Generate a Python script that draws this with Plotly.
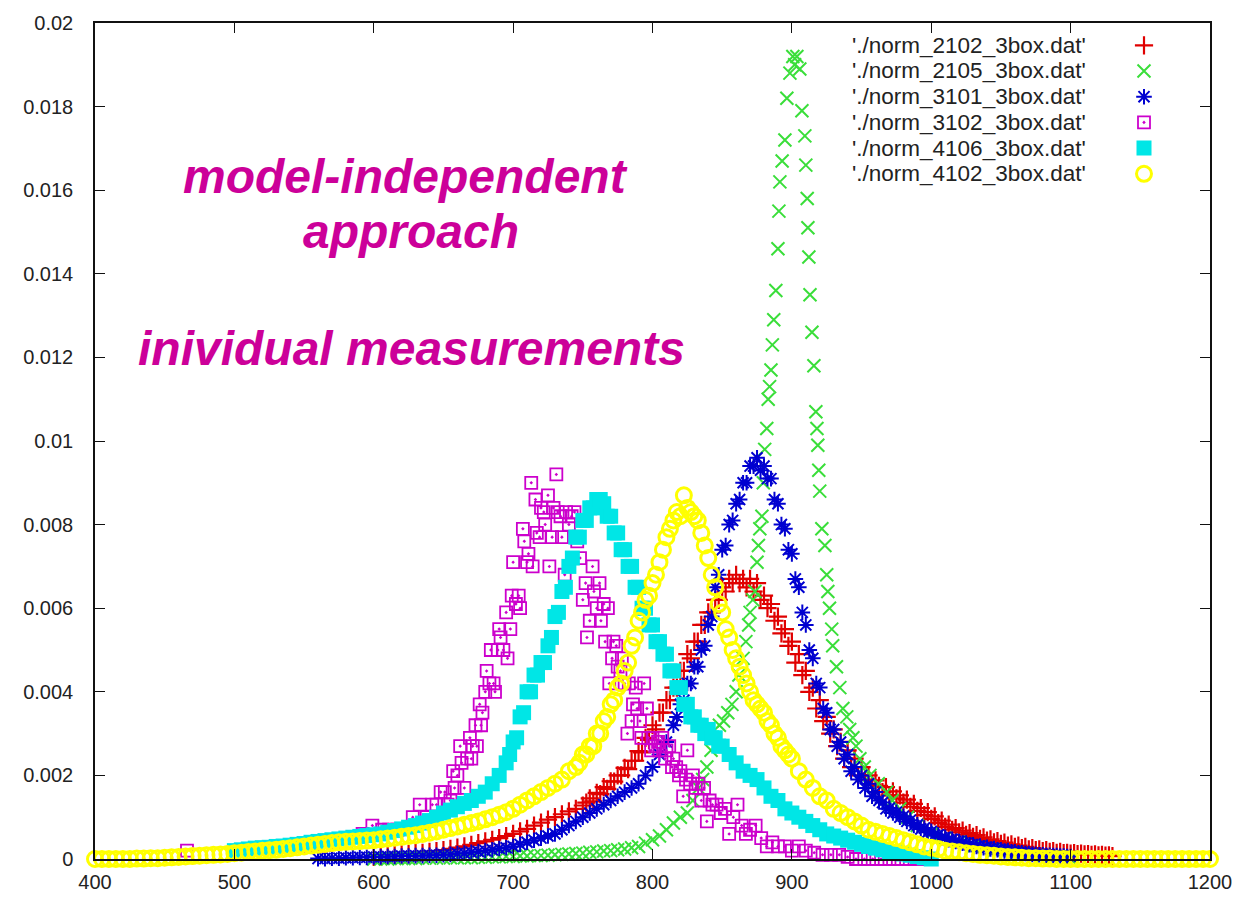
import plotly.graph_objects as go

# ---------------------------------------------------------------------------
# Normalised distributions from six measurement files (3-box analysis)
# ---------------------------------------------------------------------------
legend_labels = [
    "'./norm_2102_3box.dat'",
    "'./norm_2105_3box.dat'",
    "'./norm_3101_3box.dat'",
    "'./norm_3102_3box.dat'",
    "'./norm_4106_3box.dat'",
    "'./norm_4102_3box.dat'",
]

# Each regularly sampled file is stored in segments: (first x, x step, y values).
# The central parts of the peaks are sampled more finely than the tails.

# norm_2102
y_2102_low = [  # x = 600 ... 750, step 5
    0.00005, 0.00006, 0.00008, 0.0001, 0.00011, 0.00012, 0.00014, 0.00015, 0.00017, 0.00019,
    0.00021, 0.00024, 0.00027, 0.0003, 0.00034, 0.00038, 0.00042, 0.00046, 0.0005, 0.00055,
    0.0006, 0.00066, 0.00072, 0.0008, 0.00087, 0.00094, 0.001, 0.00107, 0.00114, 0.0012,
    0.00128,
]
y_2102_peak = [  # x = 752.5 ... 960, step 2.5
    0.00135, 0.00145, 0.00138, 0.00158, 0.00155, 0.00172, 0.00168, 0.00186, 0.00185, 0.002,
    0.002, 0.00218, 0.00215, 0.00235, 0.00235, 0.00258, 0.00255, 0.0029, 0.00285, 0.0032,
    0.0031, 0.0035, 0.0035, 0.0038, 0.0038, 0.0041, 0.0041, 0.0045, 0.0045, 0.0049,
    0.0048, 0.0052, 0.0052, 0.0056, 0.0056, 0.0059, 0.0059, 0.0062, 0.0062, 0.0065,
    0.0064, 0.0067, 0.0066, 0.0068, 0.0066, 0.0067, 0.0065, 0.0067, 0.0064, 0.0066,
    0.0062, 0.0063, 0.006, 0.0061, 0.0057, 0.0058, 0.0054, 0.0055, 0.0051, 0.0052,
    0.0047, 0.0049, 0.0044, 0.0045, 0.004, 0.0041, 0.0036, 0.0038, 0.0033, 0.0034,
    0.003, 0.0031, 0.0027, 0.0028, 0.0024, 0.0026, 0.0022, 0.0024, 0.002, 0.0022,
    0.0019, 0.002, 0.00178, 0.00188,
]
y_2102_high = [  # x = 962.5 ... 1130, step 2.5
    0.00175, 0.0016, 0.00172, 0.00152, 0.00162, 0.00145, 0.00152, 0.00135, 0.00142, 0.00125,
    0.00132, 0.00115, 0.00122, 0.00105, 0.00112, 0.00096, 0.00102, 0.00086, 0.00092, 0.00077,
    0.00082, 0.0007, 0.00074, 0.00064, 0.00068, 0.00058, 0.00062, 0.00053, 0.00057, 0.00048,
    0.00052, 0.00044, 0.00047, 0.0004, 0.00043, 0.00036, 0.00039, 0.00032, 0.00035, 0.00029,
    0.00032, 0.00026, 0.00029, 0.00023, 0.00026, 0.00021, 0.00023, 0.00019, 0.00021, 0.00017,
    0.00019, 0.00015, 0.00017, 0.00014, 0.00015, 0.00013, 0.00014, 0.00012, 0.00013, 0.00011,
    0.00012, 0.0001, 0.00011, 0.00009, 0.0001, 0.00008, 0.00009, 0.00007,
]

# norm_2105 (narrow peak, irregular sampling)
points_2105 = [
    (600, 0.0), (605, 0.0), (610, 0.0), (615, 0.00001), (620, 0.00001), (625, 0.00001),
    (630, 0.00001), (635, 0.00002), (640, 0.00002), (645, 0.00002), (650, 0.00002),
    (655, 0.00003), (660, 0.00003), (665, 0.00003), (670, 0.00003), (675, 0.00004),
    (680, 0.00004), (685, 0.00005), (690, 0.00005), (695, 0.00006), (700, 0.00006),
    (705, 0.00007), (710, 0.00007), (715, 0.00008), (720, 0.00008), (725, 0.00009),
    (730, 0.0001), (735, 0.00011), (740, 0.00012), (745, 0.00013), (750, 0.00014),
    (755, 0.00016), (760, 0.00017), (765, 0.00019), (770, 0.0002), (775, 0.00022),
    (780, 0.00024), (785, 0.00027), (790, 0.0003), (795, 0.00038), (800, 0.00046),
    (805, 0.00055), (810, 0.0007), (815, 0.00086), (820, 0.001), (825, 0.0011),
    (829, 0.0014), (833, 0.0017), (836, 0.0019), (839, 0.0022), (842, 0.0026),
    (845, 0.0029), (848, 0.0032), (851, 0.0033), (854, 0.0035), (857, 0.0037),
    (860, 0.004), (862, 0.0044), (865, 0.0048), (867, 0.0052), (869, 0.0056),
    (870, 0.0059), (872, 0.0062), (873.5, 0.0064), (875, 0.0071), (876, 0.0075),
    (877, 0.0079), (878.5, 0.0082), (879.5, 0.009), (880.5, 0.0098), (882, 0.0103),
    (883, 0.011), (884, 0.0113), (885, 0.0117), (886, 0.0123), (887, 0.0129),
    (888.5, 0.0136), (890, 0.0146), (890.7, 0.0155), (891.4, 0.0162), (893, 0.0167),
    (895, 0.0172), (896.4, 0.0182), (898.6, 0.0188), (900.7, 0.0192), (902, 0.019),
    (903.6, 0.0192), (905.7, 0.0189), (907.2, 0.0179), (909.3, 0.0173), (910, 0.0166),
    (911, 0.0158), (911.5, 0.0151), (912.2, 0.0144), (913, 0.0135), (914.4, 0.0126),
    (915.8, 0.0118), (917.2, 0.0107), (918, 0.0103), (918.6, 0.0099), (919.3, 0.0093),
    (920, 0.0088), (921.5, 0.0079), (923.7, 0.0075), (925, 0.0068), (925.8, 0.0064),
    (927, 0.006), (928.6, 0.0055), (929.3, 0.0051), (932, 0.0046), (934.4, 0.0041),
    (936.6, 0.0036), (939.4, 0.0034), (941.5, 0.0031), (943.8, 0.0029), (946, 0.0027),
    (948.8, 0.0024), (952, 0.0022), (956, 0.002), (962, 0.0018), (968, 0.0016),
    (972, 0.0014), (977.5, 0.0012), (983, 0.001), (990, 0.0008), (1000, 0.0006),
    (1010, 0.0005), (1020, 0.0004), (1030, 0.0003), (1045, 0.0002), (1060, 0.0001),
    (1080, 0.00005), (1100, 0.0),
]

# norm_3101
y_3101_low = [  # x = 560 ... 815, step 5
    0.00001, 0.00001, 0.00002, 0.00002, 0.00003, 0.00003, 0.00004, 0.00004, 0.00005, 0.00005,
    0.00006, 0.00006, 0.00007, 0.00007, 0.00008, 0.00008, 0.00009, 0.00009, 0.0001, 0.00011,
    0.00013, 0.00014, 0.00016, 0.00018, 0.0002, 0.00022, 0.00025, 0.00027, 0.0003, 0.00035,
    0.0004, 0.00045, 0.0005, 0.00055, 0.0006, 0.0007, 0.0008, 0.0009, 0.001, 0.0011,
    0.0012, 0.0013, 0.0014, 0.0015, 0.0016, 0.0017, 0.0018, 0.002, 0.0022, 0.0025,
    0.0028, 0.0032,
]
y_3101_peak = [  # x = 817.5 ... 960, step 2.5
    0.0034, 0.0037, 0.0038, 0.0042, 0.0042, 0.0046, 0.0046, 0.005, 0.0051, 0.0056,
    0.0058, 0.0065, 0.0068, 0.0074, 0.0075, 0.008, 0.0081, 0.0085, 0.0086, 0.009,
    0.009, 0.0094, 0.0094, 0.0096, 0.0093, 0.0094, 0.0091, 0.0091, 0.0086, 0.0085,
    0.008, 0.0079, 0.0074, 0.0073, 0.0067, 0.0065, 0.0059, 0.0056, 0.005, 0.0048,
    0.0042, 0.0041, 0.0036, 0.0035, 0.0031, 0.0031, 0.0027, 0.0028, 0.0024, 0.0025,
    0.0021, 0.0022, 0.0019, 0.002, 0.0017, 0.0018, 0.0015, 0.0016,
]
y_3101_high = [  # x = 962.5 ... 1100, step 2.5
    0.0014, 0.00135, 0.0012, 0.00122, 0.0011, 0.00112, 0.001, 0.00102, 0.0009, 0.00093,
    0.0008, 0.00082, 0.00072, 0.00074, 0.00064, 0.00066, 0.00057, 0.00058, 0.00051, 0.00052,
    0.00046, 0.00047, 0.00042, 0.00042, 0.00038, 0.00038, 0.00034, 0.00034, 0.0003, 0.00031,
    0.00027, 0.00028, 0.00024, 0.00025, 0.00022, 0.00022, 0.00019, 0.0002, 0.00017, 0.00017,
    0.00015, 0.00015, 0.00013, 0.00013, 0.00011, 0.00011, 0.0001, 0.0001, 0.00009, 0.00009,
    0.00008, 0.00008, 0.00007, 0.00007, 0.00006, 0.00006,
]

# norm_3102 (noisy, irregular sampling)
points_3102 = [
    (466, 0.0002), (540, 0.0003), (546, 0.00031), (551, 0.00033), (556, 0.00033),
    (562, 0.00032), (566, 0.00033), (580, 0.0004), (592, 0.0006), (599, 0.0008),
    (606, 0.0007), (611, 0.0007), (617, 0.0007), (628, 0.001), (633, 0.0013),
    (638, 0.001), (642, 0.0013), (645, 0.0013), (648, 0.0016), (651, 0.0016),
    (653, 0.0013), (655, 0.0014), (657, 0.0021), (658, 0.0017), (660, 0.002),
    (662, 0.0027), (663, 0.0023), (665, 0.0017), (667, 0.0024), (669, 0.0029),
    (670, 0.0024), (671, 0.0027), (673, 0.0032), (674, 0.0027), (676, 0.0037),
    (677, 0.0032), (678, 0.0035), (680, 0.004), (681, 0.0045), (683, 0.0042),
    (684, 0.005), (686, 0.0042), (687, 0.004), (689, 0.005), (690, 0.0055),
    (691, 0.0053), (693, 0.005), (695, 0.0059), (696, 0.0048), (698, 0.0055),
    (699, 0.0063), (700, 0.0071), (702, 0.0061), (704, 0.0063), (705, 0.006),
    (707, 0.0079), (708, 0.0076), (710, 0.0071), (711, 0.0073), (713, 0.009),
    (714, 0.007), (716, 0.0086), (717, 0.0078), (719, 0.0077), (720, 0.0084),
    (722, 0.0083), (723, 0.008), (725, 0.0087), (726, 0.007), (728, 0.0077),
    (729, 0.0084), (731, 0.0092), (732, 0.0083), (734, 0.0082), (735, 0.0077),
    (737, 0.0068), (738, 0.0083), (740, 0.008), (742, 0.0082), (744, 0.0083),
    (746, 0.0076), (748, 0.0072), (750, 0.0062), (752, 0.0066), (753, 0.0053),
    (755, 0.0057), (757, 0.007), (758, 0.0064), (760, 0.006), (762, 0.0066),
    (763, 0.0057), (765, 0.0061), (766, 0.0052), (768, 0.006), (769, 0.0042),
    (771, 0.0048), (772, 0.0052), (774, 0.0051), (775, 0.0046), (777, 0.0045),
    (778, 0.0048), (780, 0.0042), (782, 0.003), (783, 0.0042), (785, 0.0033),
    (786, 0.0037), (788, 0.0041), (789, 0.0036), (791, 0.0033), (792, 0.0029),
    (794, 0.0042), (796, 0.0036), (797, 0.0029), (799, 0.0026), (800, 0.0029),
    (802, 0.0027), (804, 0.0028), (805, 0.0026), (807, 0.0029), (809, 0.0024),
    (810, 0.0026), (812, 0.0027), (814, 0.0022), (815, 0.0024), (817, 0.0022),
    (819, 0.002), (820, 0.0021), (822, 0.0015), (824, 0.0019), (825, 0.0026),
    (827, 0.0018), (829, 0.002), (831, 0.0017), (833, 0.0018), (835, 0.0014),
    (837, 0.0017), (839, 0.0009), (841, 0.0014), (843, 0.0013), (846, 0.0013),
    (849, 0.0011), (852, 0.0012), (855, 0.0006), (858, 0.001), (861, 0.0013),
    (864, 0.0008), (867, 0.0006), (870, 0.0007), (874, 0.0008), (878, 0.0005),
    (882, 0.0003), (886, 0.0004), (890, 0.0003), (895, 0.0003), (900, 0.0002),
    (905, 0.0003), (910, 0.0002), (916, 0.00015), (922, 0.0001), (928, 0.0001),
    (934, 0.0001), (940, 0.00005), (946, 0.0), (952, 0.0), (958, 0.0),
    (964, 0.0), (970, 0.0), (976, 0.0), (982, 0.0), (988, 0.0), (994, 0.0),
]

# norm_4106
y_4106_low = [  # x = 500 ... 695, step 5
    0.0002, 0.00022, 0.00024, 0.00026, 0.00027, 0.00028, 0.0003, 0.00031, 0.00033, 0.00035,
    0.00037, 0.0004, 0.00042, 0.00044, 0.00046, 0.00048, 0.0005, 0.00052, 0.00054, 0.00056,
    0.00058, 0.0006, 0.00064, 0.00068, 0.00072, 0.00076, 0.0008, 0.00086, 0.00092, 0.001,
    0.0011, 0.00117, 0.00125, 0.00133, 0.0014, 0.0015, 0.0016, 0.0018, 0.002, 0.0023,
]
y_4106_peak = [  # x = 697.5 ... 850, step 2.5
    0.0025, 0.0028, 0.0029, 0.0034, 0.0035, 0.004, 0.004, 0.0044, 0.0044, 0.0047,
    0.0047, 0.0051, 0.0053, 0.0058, 0.0059, 0.0064, 0.0065, 0.007, 0.0072, 0.0077,
    0.0077, 0.0081, 0.0081, 0.0084, 0.0084, 0.0086, 0.0086, 0.0085, 0.0082, 0.0082,
    0.0078, 0.0078, 0.0074, 0.0074, 0.007, 0.007, 0.0065, 0.0065, 0.006, 0.006,
    0.0056, 0.0056, 0.0052, 0.0052, 0.0049, 0.0049, 0.0045, 0.0045, 0.0041, 0.0041,
    0.0037, 0.0037, 0.0034, 0.0034, 0.0032, 0.0032, 0.003, 0.0031, 0.0029, 0.0029,
    0.0027, 0.0027,
]
y_4106_high = [  # x = 855 ... 1000, step 5
    0.0025, 0.0023, 0.0021, 0.002, 0.0019, 0.0017, 0.0015, 0.0014, 0.0012, 0.0011,
    0.001, 0.0009, 0.0008, 0.0007, 0.0006, 0.00055, 0.0005, 0.00045, 0.0004, 0.00035,
    0.0003, 0.00026, 0.00022, 0.00018, 0.00015, 0.00012, 0.00009, 0.00006, 0.00003, 0.0,
]

# norm_4102
y_4102_low = [  # x = 400 ... 745, step 5
    0.0, 0.0, 0.0, 0.0, 0.0, 0.0, 0.00001, 0.00001, 0.00002, 0.00002,
    0.00003, 0.00004, 0.00005, 0.00006, 0.00007, 0.00008, 0.00009, 0.0001, 0.00011, 0.00012,
    0.00014, 0.00015, 0.00017, 0.00018, 0.0002, 0.00021, 0.00022, 0.00024, 0.00026, 0.00028,
    0.0003, 0.00032, 0.00034, 0.00036, 0.00038, 0.0004, 0.00041, 0.00042, 0.00043, 0.00044,
    0.00045, 0.00047, 0.00049, 0.00051, 0.00053, 0.00055, 0.00057, 0.0006, 0.00063, 0.00066,
    0.0007, 0.00074, 0.00078, 0.00082, 0.00086, 0.0009, 0.00095, 0.001, 0.00106, 0.00112,
    0.0012, 0.0013, 0.0014, 0.0015, 0.0016, 0.0017, 0.0018, 0.0019, 0.0021, 0.0022,
]
y_4102_peak = [  # x = 747.5 ... 900, step 2.5
    0.0023, 0.0025, 0.0025, 0.0027, 0.0027, 0.003, 0.003, 0.0033, 0.0034, 0.0037,
    0.0038, 0.0041, 0.0042, 0.0045, 0.0047, 0.0051, 0.0053, 0.0057, 0.0059, 0.0062,
    0.0063, 0.0066, 0.0068, 0.0071, 0.0074, 0.0077, 0.0079, 0.0081, 0.0083, 0.0082,
    0.0087, 0.0084, 0.0083, 0.0082, 0.0081, 0.0078, 0.0075, 0.0072, 0.0068, 0.0065,
    0.0061, 0.0059, 0.0055, 0.0053, 0.005, 0.0048, 0.0046, 0.0044, 0.0042, 0.004,
    0.0038, 0.0037, 0.0036, 0.0035, 0.0033, 0.0032, 0.003, 0.0029, 0.0027, 0.0026,
    0.0025, 0.0024,
]
y_4102_high = [  # x = 905 ... 1200, step 5
    0.0021, 0.0019, 0.0017, 0.0015, 0.0014, 0.0012, 0.0011, 0.001, 0.0009,
    0.0008, 0.0007, 0.00065, 0.0006, 0.00055, 0.0005, 0.00045, 0.0004, 0.00035, 0.0003,
    0.00027, 0.00024, 0.0002, 0.00018, 0.00016, 0.00014, 0.00012, 0.0001, 0.00009, 0.00008,
    0.00006, 0.00005, 0.00004, 0.00003, 0.00002, 0.00002, 0.00001, 0.00001, 0.0, 0.0,
    0.0, 0.0, 0.0, 0.0, 0.0, 0.0, 0.0, 0.0, 0.0, 0.0,
    0.0, 0.0, 0.0, 0.0, 0.0, 0.0, 0.0, 0.0, 0.0, 0.0,
    0.0,
]

y_tick_values = [0, 0.002, 0.004, 0.006, 0.008, 0.01, 0.012, 0.014, 0.016, 0.018, 0.02]
y_tick_labels = ["0", "0.002", "0.004", "0.006", "0.008", "0.01",
                 "0.012", "0.014", "0.016", "0.018", "0.02"]
x_tick_values = [400, 500, 600, 700, 800, 900, 1000, 1100, 1200]

notes = ["model-independent", "approach", "inividual measurements"]

FONT = "Liberation Sans, Arial, Helvetica, sans-serif"


def sampled(*segments):
    """Join (first x, step, y values) segments into x and y lists."""
    xs, ys = [], []
    for x0, step, values in segments:
        xs.extend(x0 + step * i for i in range(len(values)))
        ys.extend(values)
    return xs, ys


x_2102, y_2102 = sampled((600, 5, y_2102_low), (752.5, 2.5, y_2102_peak),
                         (962.5, 2.5, y_2102_high))
x_3101, y_3101 = sampled((560, 5, y_3101_low), (817.5, 2.5, y_3101_peak),
                         (962.5, 2.5, y_3101_high))
x_4106, y_4106 = sampled((500, 5, y_4106_low), (697.5, 2.5, y_4106_peak), (855, 5, y_4106_high))
x_4102, y_4102 = sampled((400, 5, y_4102_low), (747.5, 2.5, y_4102_peak), (905, 5, y_4102_high))

# ---------------------------------------------------------------------------
series = [
    dict(x=x_2102, y=y_2102, symbol="cross-thin-open", color="#e00000", size=13, lw=2.2),
    dict(x=[p[0] for p in points_2105], y=[p[1] for p in points_2105],
         symbol="x-thin-open", color="#3ade3a", size=13, lw=2.0),
    dict(x=x_3101, y=y_3101, symbol="asterisk-open", color="#0000d0", size=13, lw=2.0),
    dict(x=[p[0] for p in points_3102], y=[p[1] for p in points_3102],
         symbol="square-open-dot", color="#cc00cc", size=12, lw=1.8),
    dict(x=x_4106, y=y_4106, symbol="square", color="#00e6e6", size=15, lw=0),
    dict(x=x_4102, y=y_4102, symbol="circle-open", color="#ffff00", size=15, lw=3.0),
]

fig = go.Figure()
for s in series:
    fig.add_trace(go.Scatter(
        x=s["x"], y=s["y"], mode="markers", name=" ",
        cliponaxis=False, hoverinfo="skip",
        marker=dict(symbol=s["symbol"], color=s["color"], size=s["size"],
                    line=dict(width=s["lw"], color=s["color"])),
    ))

# key labels, right-aligned to the left of the legend symbols
ROW0, ROW_STEP = 45.3, 25.7
for i, label in enumerate(legend_labels):
    fig.add_annotation(
        text=label, xref="paper", yref="paper",
        x=(1088 - 95) / 1115, y=(859 - (ROW0 + i * ROW_STEP)) / 836,
        xanchor="right", yanchor="middle", showarrow=False,
        font=dict(family=FONT, size=22.5, color="#222222"),
    )

# slide-style captions
caption_pos = [(405, 176.4), (411, 231.4), (411.5, 348.4)]
for text, (px, py) in zip(notes, caption_pos):
    fig.add_annotation(
        text=text, xref="paper", yref="paper",
        x=(px - 95) / 1115, y=(859 - py) / 836,
        xanchor="center", yanchor="middle", showarrow=False,
        font=dict(family=FONT, size=48, color="#cc0099", weight="bold", style="italic"),
    )

axis_common = dict(
    showline=True, linecolor="#111111", linewidth=1.5, mirror="allticks",
    ticks="inside", ticklen=10, tickwidth=1.3, tickcolor="#111111",
    showgrid=False, zeroline=False, automargin=False,
    tickfont=dict(family=FONT, size=20, color="#222222"),
)

fig.update_xaxes(range=[400, 1200], tickvals=x_tick_values, ticklabelstandoff=4, **axis_common)
fig.update_yaxes(range=[0, 0.02], tickvals=y_tick_values, ticktext=y_tick_labels,
                 ticklabelstandoff=16, **axis_common)

fig.update_layout(
    width=1243, height=900,
    margin=dict(l=95, r=33, t=23, b=41, pad=0, autoexpand=False),
    paper_bgcolor="white", plot_bgcolor="white",
    showlegend=True,
    legend=dict(
        x=(1124 - 95) / 1115, y=(859 - 27.45) / 836, xanchor="left", yanchor="top",
        bgcolor="rgba(0,0,0,0)", borderwidth=0,
        font=dict(family=FONT, size=17.46, color="#222222"),
        itemsizing="trace",
    ),
)

fig.write_html("out.html")
